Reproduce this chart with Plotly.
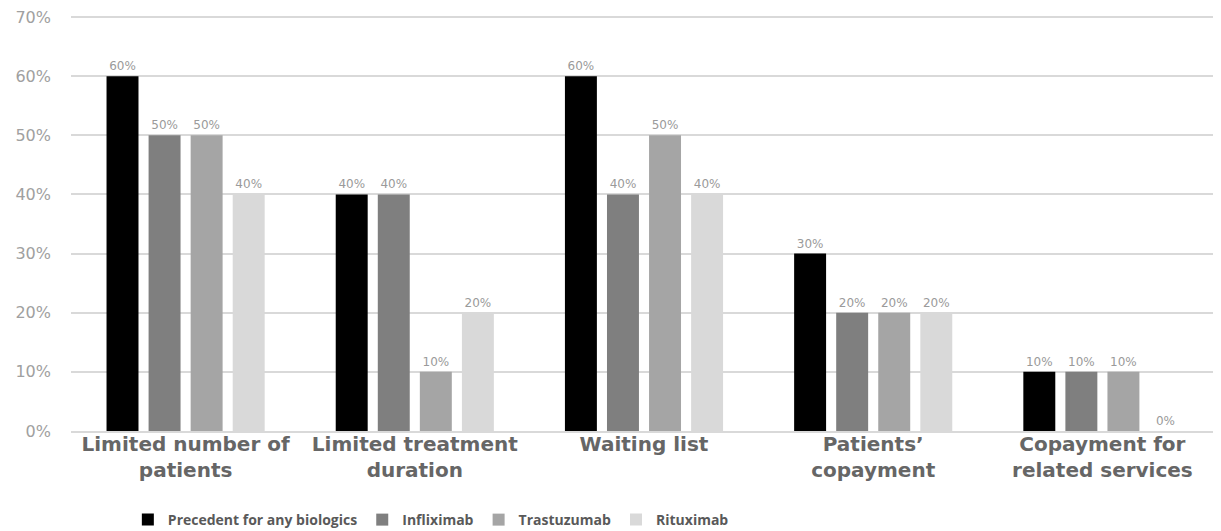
import plotly.graph_objects as go

categories = ["Limited number of<br>patients", "Limited treatment<br>duration", "Waiting list",
              "Patients’<br>copayment", "Copayment for<br>related services"]
series_names = ["Precedent for any biologics", "Infliximab", "Trastuzumab", "Rituximab"]
values = {
    "Precedent for any biologics": [0.60, 0.40, 0.60, 0.30, 0.10],
    "Infliximab": [0.50, 0.40, 0.40, 0.20, 0.10],
    "Trastuzumab": [0.50, 0.10, 0.50, 0.20, 0.10],
    "Rituximab": [0.40, 0.20, 0.40, 0.20, 0.00],
}
colors = ["#000000", "#7f7f7f", "#a5a5a5", "#d9d9d9"]
y_ticks = [0, 0.1, 0.2, 0.3, 0.4, 0.5, 0.6, 0.7]
y_tick_labels = ["0%", "10%", "20%", "30%", "40%", "50%", "60%", "70%"]

fig = go.Figure()
for name, c in zip(series_names, colors):
    vals = values[name]
    fig.add_trace(go.Bar(
        x=categories, y=vals, name=f"<b>{name}</b>",
        marker=dict(color=c, line=dict(width=0)),
        text=[f"{v*100:.0f}%" for v in vals], textposition="outside",
        textfont=dict(size=12, color="#9a9a9a", family="DejaVu Sans"),
        cliponaxis=False,
    ))

# page body has an 8px default margin, so figure is sized/offset to compensate
fig.update_layout(
    width=1213, height=523,
    margin=dict(l=63, r=4, t=7, b=100),
    paper_bgcolor="white", plot_bgcolor="white",
    barmode="group", bargap=0.266, bargroupgap=0.24,
    showlegend=True,
    legend=dict(orientation="h", x=0.314, xanchor="center",
                yref="container", y=0.021, yanchor="middle",
                font=dict(size=14, color="#595959", family="Open Sans"),
                itemwidth=30, traceorder="normal", tracegroupgap=0),
    font=dict(family="Open Sans"),
)
fig.update_yaxes(range=[0, 0.7035], tickvals=y_ticks, ticktext=y_tick_labels,
                 showgrid=True, gridcolor="#d9d9d9", gridwidth=1.5, zeroline=False,
                 tickfont=dict(size=16, color="#a0a0a0", family="DejaVu Sans"),
                 ticks="", showline=False, automargin=False, ticklabelstandoff=19,
                 ticklabeloverflow="allow")
fig.update_xaxes(tickvals=categories, ticktext=[f"<b>{c}</b>" for c in categories],
                 tickfont=dict(size=20, color="#666666", family="DejaVu Sans"),
                 showline=True, linecolor="#d9d9d9", linewidth=1.5, ticks="",
                 automargin=False, ticklabelstandoff=-6)

fig.write_html("out.html")
